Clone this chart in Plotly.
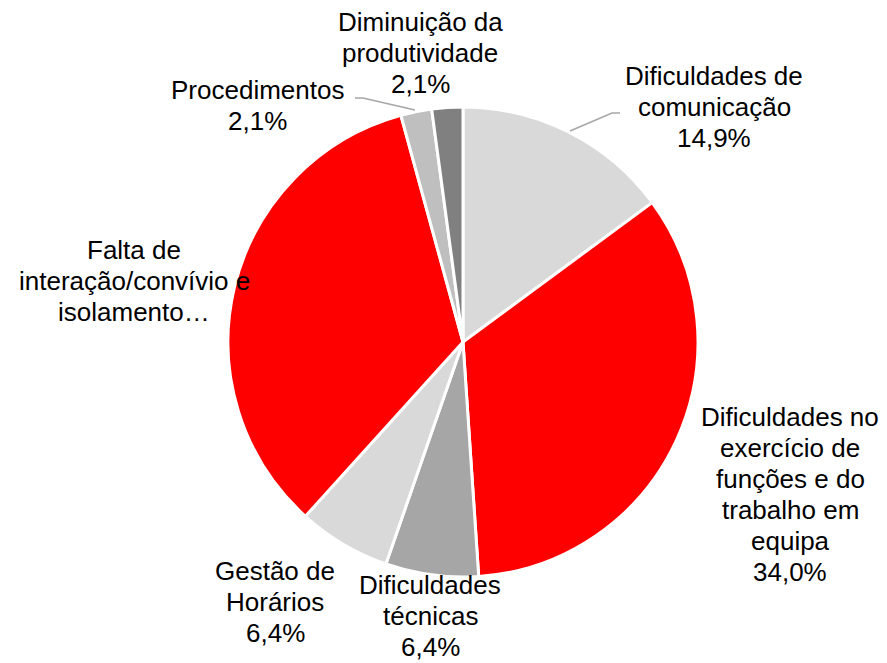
import plotly.graph_objects as go

categories = [
    "Dificuldades de<br>comunicação",
    "Dificuldades no<br>exercício de<br>funções e do<br>trabalho em<br>equipa",
    "Dificuldades<br>técnicas",
    "Gestão de<br>Horários",
    "Falta de<br>interação/convívio e<br>isolamento…",
    "Procedimentos",
    "Diminuição da<br>produtividade",
]
counts = [7, 16, 3, 3, 16, 1, 1]
show_pct = [True, True, True, True, False, True, True]
colors = ["#d9d9d9", "#ff0000", "#a6a6a6", "#d9d9d9", "#ff0000", "#bfbfbf", "#808080"]

# label anchor: (centre x, first-line centre y) in page pixels
label_pos = [(714, 76), (790, 417), (430, 585), (275, 571), (134, 250), (257, 90), (420, 22)]
LINE_STEP = 31
OFF = 8  # default body margin of the html page

W, H = 887, 663
total = sum(counts)


def px(x):
    return (x - OFF) / W


def py(y):
    return 1 - (y - OFF) / H


fig = go.Figure(go.Pie(
    labels=[c.replace("<br>", " ") for c in categories],
    values=counts,
    sort=False,
    direction="clockwise",
    rotation=0,
    marker=dict(colors=colors, line=dict(color="white", width=3)),
    textinfo="none",
    hoverinfo="label+percent",
    showlegend=False,
    domain=dict(x=[px(228), px(698)], y=[py(577), py(107)]),
))

font = dict(family="Liberation Sans, Arial, sans-serif", size=26, color="#000000")
for cat, n, sp, (lx, ly) in zip(categories, counts, show_pct, label_pos):
    lines = cat.split("<br>")
    if sp:
        lines.append(f"{100 * n / total:.1f}".replace(".", ",") + "%")
    for i, line in enumerate(lines):
        fig.add_annotation(
            x=px(lx), y=py(ly + i * LINE_STEP), xref="paper", yref="paper",
            text=line, showarrow=False, align="center",
            xanchor="center", yanchor="middle", font=font,
        )

# leader lines
leaders = [
    [(570, 131), (612, 113), (620, 113)],
    [(355, 98), (363, 98), (415, 110)],
]
for pts in leaders:
    fig.add_shape(
        type="path", xref="paper", yref="paper",
        path="M " + " L ".join(f"{px(x)},{py(y)}" for x, y in pts),
        line=dict(color="#a6a6a6", width=1.5),
    )

fig.update_layout(
    width=W, height=H,
    margin=dict(l=0, r=0, t=0, b=0),
    paper_bgcolor="white", plot_bgcolor="white",
)

fig.write_html("out.html")
